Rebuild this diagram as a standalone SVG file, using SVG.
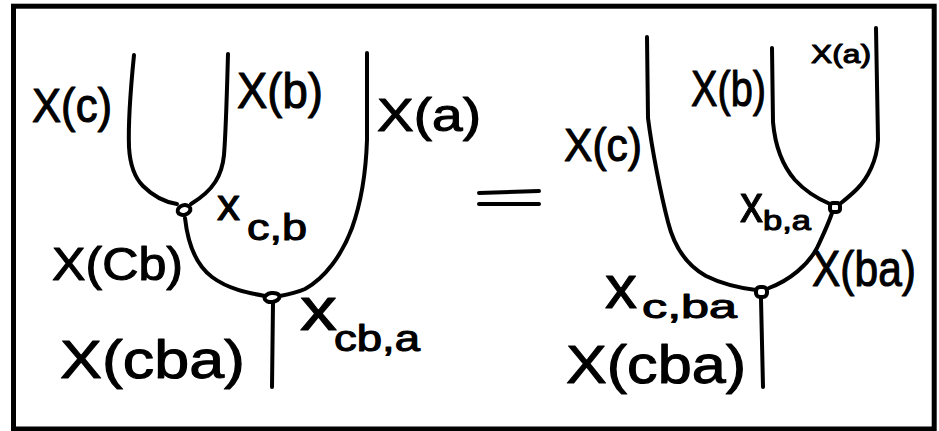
<svg xmlns="http://www.w3.org/2000/svg" width="939" height="431" viewBox="0 0 939 431">
<style>
.frame{fill:none;stroke:#000;stroke-width:5}
.w{fill:none;stroke:#000;stroke-width:4;stroke-linecap:round;stroke-linejoin:round}
.v{fill:#fff;stroke:#000;stroke-width:4}
.t{font-family:"Liberation Sans","DejaVu Sans",sans-serif;fill:#000;stroke:#000;stroke-width:1.1;stroke-linejoin:round}
</style>
<rect width="939" height="431" fill="#fff"/>
<rect class="frame" x="13.5" y="6.2" width="920.7" height="422.8"/>
<g id="connectors">
  <path class="w" d="M134,55 C131,85 128,120 129,147 C130,165 134,177 143,186 C153,196 164,202 177,204"/>
  <path class="w" d="M228,54 C227,90 226,130 224,155 C222,175 214,190 191,204"/>
  <path class="w" d="M185,218 C188,245 196,265 212,277 C228,289 248,293 265,296"/>
  <path class="w" d="M367,53 L367,140 C366,170 362,200 352,228 C342,255 325,278 305,289 C298,292 290,294 280,296"/>
  <path class="w" d="M273,303 L272,387"/>
  <path class="w" d="M479,193 L539,191" stroke-width="5"/>
  <path class="w" d="M479,204 L539,204" stroke-width="5"/>
  <path class="w" d="M647,37 L648,118 C652,150 661,195 668,222 C675,250 688,266 706,276 C722,284 740,288 756,290"/>
  <path class="w" d="M772,48 L773,122 C775,145 782,165 795,180 C806,192 816,198 830,204"/>
  <path class="w" d="M876,28 L878,140 C877,160 868,178 857,189 C851,195 846,199 841,203"/>
  <path class="w" d="M769,288 C790,280 808,265 817,248 C823,235 828,225 832,213"/>
  <path class="w" d="M761,299 L763,387"/>
</g>
<g id="node-cb">
  <ellipse class="v" cx="184" cy="210" rx="6.5" ry="4.8" transform="rotate(-15 184 210)"/>
</g>
<g id="node-cb-a">
  <ellipse class="v" cx="272" cy="297.5" rx="7.5" ry="4.5" transform="rotate(-8 272 297.5)"/>
</g>
<g id="node-b-a">
  <rect class="v" x="830" y="203" width="10" height="9" rx="3"/>
</g>
<g id="node-c-ba">
  <rect class="v" x="756" y="287" width="11" height="10" rx="4"/>
</g>
<g id="labels">
  <text class="t" x="32" y="122" font-size="48" textLength="80" lengthAdjust="spacingAndGlyphs">X(c)</text>
  <text class="t" x="237" y="108" font-size="50" textLength="86" lengthAdjust="spacingAndGlyphs">X(b)</text>
  <text class="t" x="377" y="131" font-size="46" textLength="104" lengthAdjust="spacingAndGlyphs">X(a)</text>
  <text class="t" x="52" y="280" font-size="46" textLength="131" lengthAdjust="spacingAndGlyphs">X(Cb)</text>
  <text class="t" x="60" y="378" font-size="54" textLength="185" lengthAdjust="spacingAndGlyphs">X(cba)</text>
  <text class="t"><tspan x="217" y="220" font-size="44" textLength="23" lengthAdjust="spacingAndGlyphs">x</tspan><tspan x="247" y="240" font-size="37" textLength="60" lengthAdjust="spacingAndGlyphs">c,b</tspan></text>
  <text class="t"><tspan x="300" y="330" font-size="62" textLength="37" lengthAdjust="spacingAndGlyphs">x</tspan><tspan x="334" y="351" font-size="36" textLength="86" lengthAdjust="spacingAndGlyphs">cb,a</tspan></text>
  <text class="t" x="811" y="63" font-size="26" textLength="60" lengthAdjust="spacingAndGlyphs">X(a)</text>
  <text class="t" x="691" y="106" font-size="50" textLength="75" lengthAdjust="spacingAndGlyphs">X(b)</text>
  <text class="t" x="564" y="161" font-size="46" textLength="78" lengthAdjust="spacingAndGlyphs">X(c)</text>
  <text class="t"><tspan x="740" y="222" font-size="54" textLength="23" lengthAdjust="spacingAndGlyphs">x</tspan><tspan x="763" y="230" font-size="27" textLength="48" lengthAdjust="spacingAndGlyphs">b,a</tspan></text>
  <text class="t" x="812" y="286" font-size="50" textLength="104" lengthAdjust="spacingAndGlyphs">X(ba)</text>
  <text class="t"><tspan x="605" y="308" font-size="62" textLength="32" lengthAdjust="spacingAndGlyphs">x</tspan><tspan x="642" y="318" font-size="34" textLength="95" lengthAdjust="spacingAndGlyphs">c,ba</tspan></text>
  <text class="t" x="566" y="383" font-size="54" textLength="180" lengthAdjust="spacingAndGlyphs">X(cba)</text>
</g>
</svg>
